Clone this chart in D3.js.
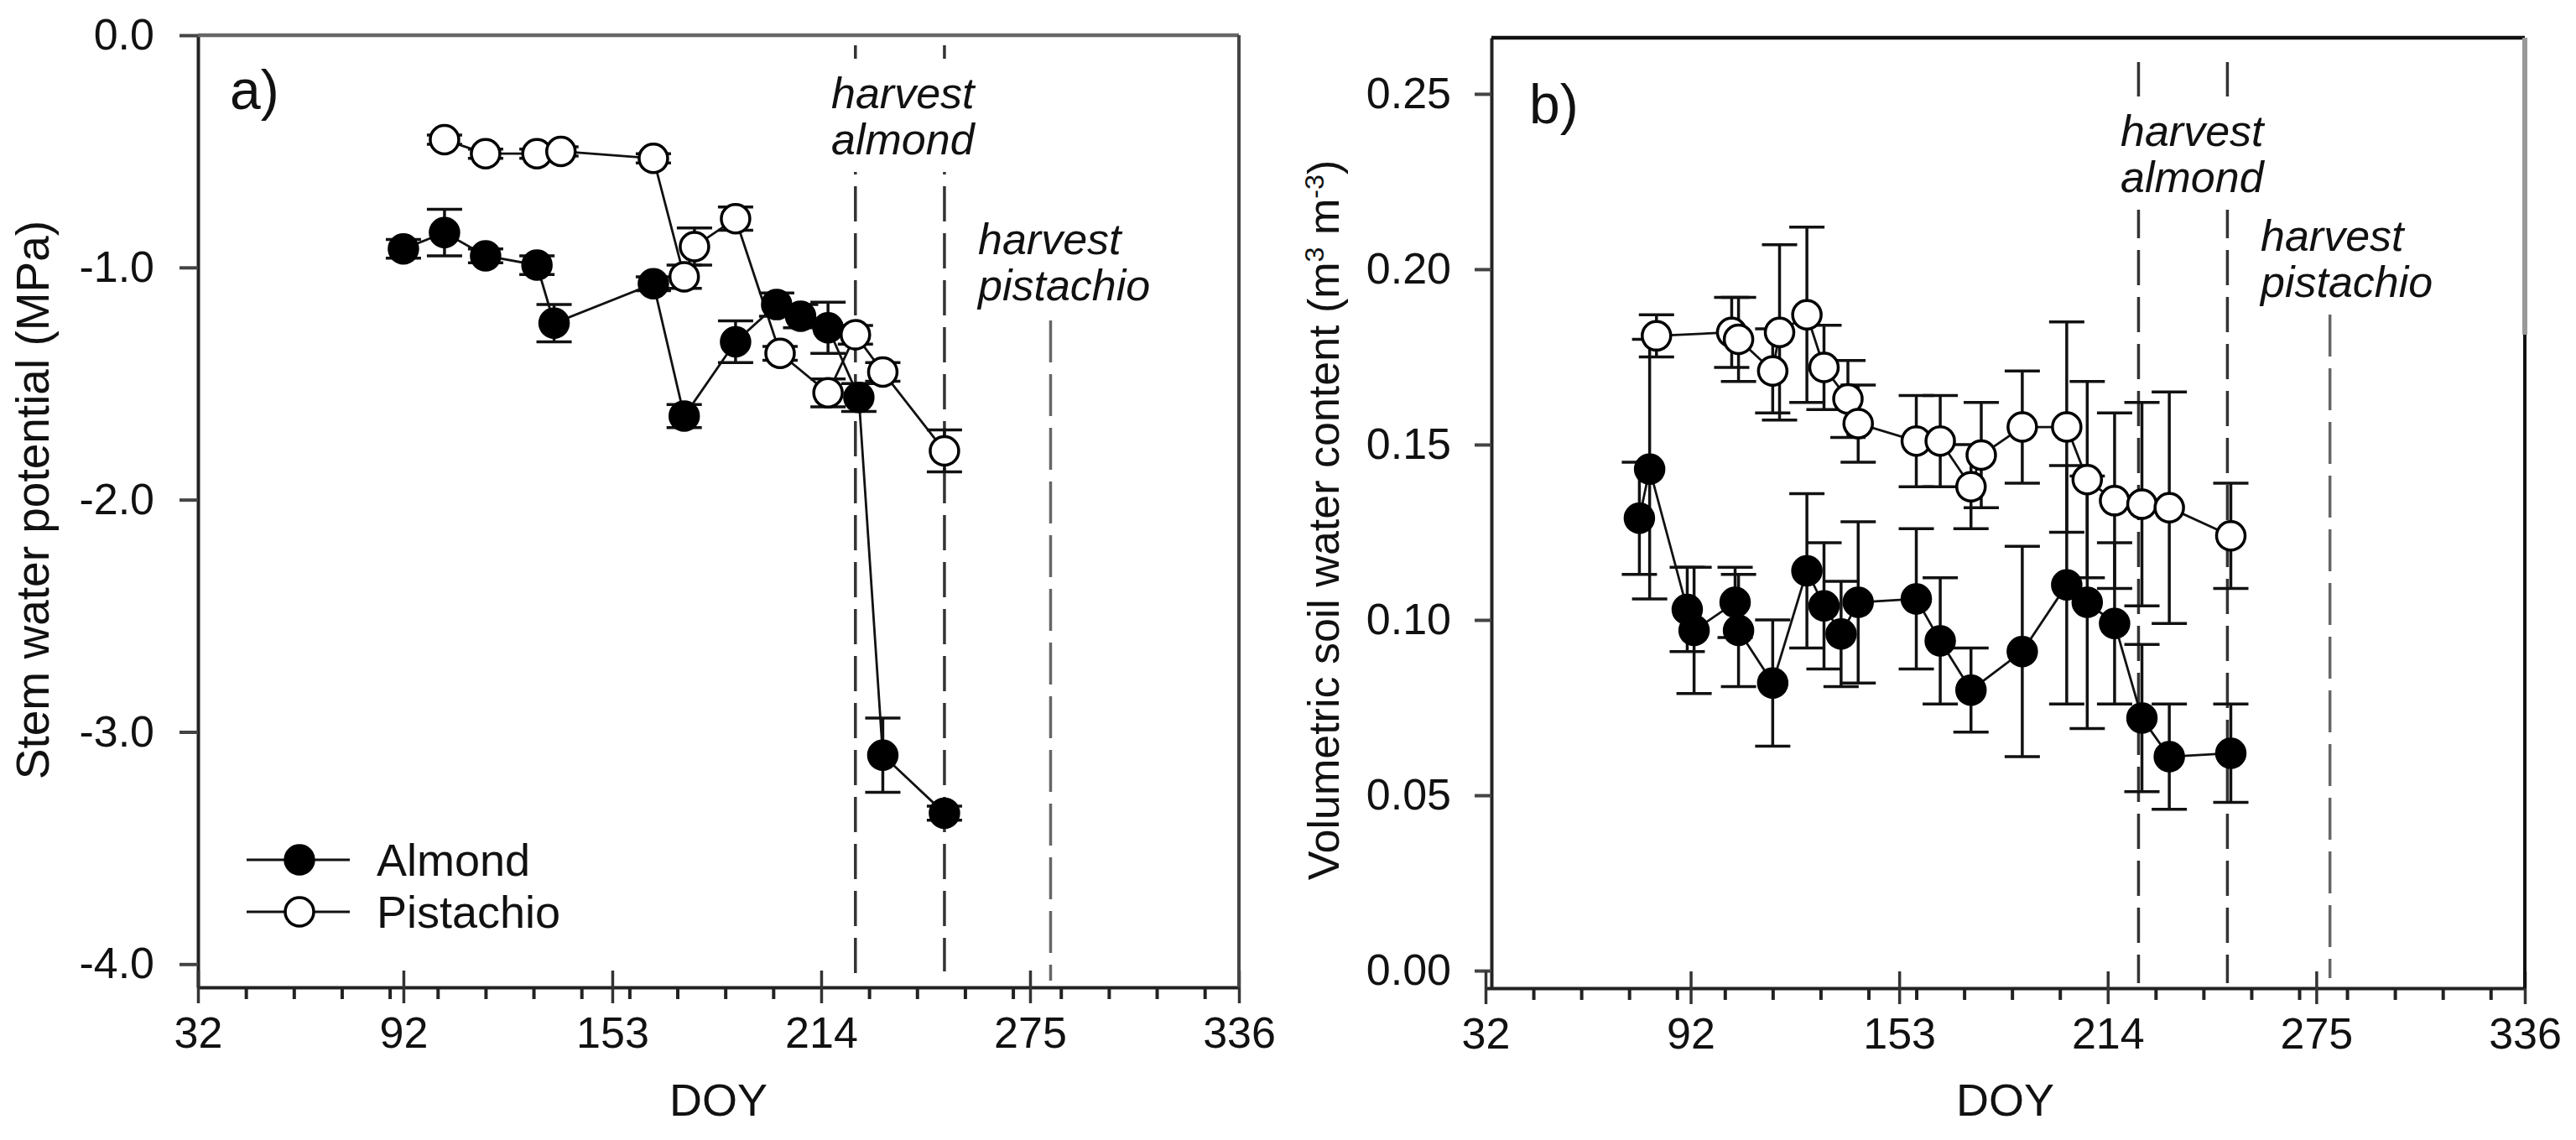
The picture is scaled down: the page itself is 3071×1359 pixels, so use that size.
<!DOCTYPE html>
<html>
<head>
<meta charset="utf-8">
<title>Stem water potential and soil water content</title>
<style>
  body { margin: 0; background: #fff; }
  text { font-family: "Liberation Sans", Arial, sans-serif; fill: #111; }
</style>
</head>
<body>
<script src="https://d3js.org/d3.v7.min.js"></script>
<svg id="chart" width="3071" height="1359"></svg>
<script>
// ---- data, panel a (stem water potential, MPa) ----
var almondDoyA = [92, 104, 116, 131, 136, 165, 174, 189, 201, 208, 216, 225, 232, 250];
var almondSwpA = [-0.92, -0.85, -0.95, -0.99, -1.24, -1.07, -1.64, -1.32, -1.16, -1.21, -1.26, -1.56, -3.10, -3.35];
var almondErrA = [0.04, 0.10, 0.03, 0.04, 0.08, 0.03, 0.05, 0.09, 0.05, 0.05, 0.11, 0.06, 0.16, 0.03];

var pistachioDoyA = [104, 116, 131, 138, 165, 174, 177, 189, 202, 216, 224, 232, 250];
var pistachioSwpA = [-0.45, -0.51, -0.51, -0.50, -0.53, -1.04, -0.91, -0.79, -1.37, -1.54, -1.29, -1.45, -1.79];
var pistachioErrA = [0.02, 0.02, 0.02, 0.02, 0.02, 0.05, 0.08, 0.05, 0.03, 0.06, 0.04, 0.04, 0.09];

// ---- data, panel b (volumetric soil water content) ----
var almondDoyB = [77, 80, 91, 93, 105, 106, 116, 126, 131, 136, 141, 158, 165, 174, 189, 202, 208, 216, 224, 232, 250];
var almondVwcB = [0.129, 0.143, 0.103, 0.097, 0.105, 0.097, 0.082, 0.114, 0.104, 0.096, 0.105, 0.106, 0.094, 0.080, 0.091, 0.110, 0.105, 0.099, 0.072, 0.061, 0.062];
var almondErrB = [0.016, 0.037, 0.012, 0.018, 0.010, 0.016, 0.018, 0.022, 0.018, 0.015, 0.023, 0.020, 0.018, 0.012, 0.030, 0.034, 0.036, 0.023, 0.021, 0.015, 0.014];

var pistachioDoyB = [82, 104, 106, 116, 118, 126, 131, 138, 141, 158, 165, 174, 177, 189, 202, 208, 216, 224, 232, 250];
var pistachioVwcB = [0.181, 0.182, 0.180, 0.171, 0.182, 0.187, 0.172, 0.163, 0.156, 0.151, 0.151, 0.138, 0.147, 0.155, 0.155, 0.140, 0.134, 0.133, 0.132, 0.124];
var pistachioErrB = [0.006, 0.010, 0.012, 0.012, 0.025, 0.025, 0.012, 0.011, 0.011, 0.013, 0.013, 0.012, 0.015, 0.016, 0.030, 0.028, 0.025, 0.029, 0.033, 0.015];

// harvest dates (DOY) as drawn in each panel
var harvestA = [224, 250, 281];
var harvestB = [223, 249, 279];

// axis ticks
var xMajorTicks = [32, 92, 153, 214, 275, 336];
var xMinorTicks = [46, 60, 74, 88, 102, 116, 130, 144, 158, 172, 186, 200, 228, 242, 256, 270, 284, 298, 312, 326];
var yTicksA = [0, -1, -2, -3, -4];
var yTicksB = [0, 0.05, 0.10, 0.15, 0.20, 0.25];

var svg = d3.select("#chart");

function zip(doy, val, err) {
    return doy.map(function(d, i) { return {doy: d, v: val[i], e: err[i]}; });
}

function drawPanel(p) {
    var x = d3.scaleLinear().domain([32, 336]).range(p.xRange);
    var y = d3.scaleLinear().domain(p.yDomain).range(p.yRange);
    var g = svg.append("g");
    var top = p.yRange[1], bottom = p.yRange[0];

    // harvest lines
    g.selectAll(".harvest")
        .data(p.harvest)
        .enter().append("line")
        .attr("x1", function(d) { return x(d); })
        .attr("x2", function(d) { return x(d); })
        .attr("y1", function(d, i) { return p.harvestTop[i]; })
        .attr("y2", function(d, i) { return p.harvestBottom[i]; })
        .attr("stroke", function(d, i) { return i == 2 ? "#666" : "#333"; })
        .attr("stroke-width", 3.5)
        .attr("stroke-dasharray", function(d, i) { return i == 2 ? "50,14" : "42,14"; });

    // harvest labels, almond one has a white box that hides the lines
    p.labels.forEach(function(l) {
        var lg = g.append("g");
        var t = lg.append("text")
            .attr("x", l.x).attr("y", l.y)
            .attr("font-size", 52)
            .attr("font-style", "italic");
        t.append("tspan").attr("x", l.x).text("harvest");
        t.append("tspan").attr("x", l.x).attr("dy", 55).text(l.crop);
        if (l.box) {
            var bb = t.node().getBBox();
            lg.insert("rect", "text")
                .attr("x", bb.x - 6).attr("y", bb.y - 12)
                .attr("width", bb.width + 12).attr("height", bb.height + 22)
                .attr("fill", "#fff");
        }
    });

    // axes
    var yAxis = d3.axisLeft(y).tickValues(p.yTicks)
        .tickFormat(function(d) { return d.toFixed(p.yDigits); })
        .tickSize(p.yTickSize).tickSizeOuter(0).tickPadding(p.yPad);
    var ya = g.append("g").attr("transform", "translate(" + p.yAxisX + ",0)").call(yAxis);
    ya.select(".domain").attr("stroke", "#222").attr("stroke-width", 4);
    ya.selectAll(".tick line").attr("stroke", "#444").attr("stroke-width", 4);
    ya.selectAll(".tick text").attr("font-size", 52).attr("fill", "#222");

    var xAxis = d3.axisBottom(x).tickValues(xMajorTicks)
        .tickSize(19).tickSizeOuter(0).tickPadding(16);
    var xa = g.append("g").attr("transform", "translate(0," + bottom + ")").call(xAxis);
    xa.select(".domain").attr("stroke", "#222").attr("stroke-width", 4);
    xa.selectAll(".tick line").attr("y1", -20).attr("stroke", "#333").attr("stroke-width", 3.5);
    xa.selectAll(".tick text").attr("font-size", 52).attr("fill", "#222");

    var xMinor = d3.axisBottom(x).tickValues(xMinorTicks).tickSize(14).tickFormat("");
    var xm = g.append("g").attr("transform", "translate(0," + bottom + ")").call(xMinor);
    xm.select(".domain").remove();
    xm.selectAll(".tick line").attr("stroke", "#222").attr("stroke-width", 4);

    // frame: top and right
    g.append("line").attr("x1", p.yAxisX).attr("x2", p.xRange[1])
        .attr("y1", top).attr("y2", top)
        .attr("stroke", p.topColor).attr("stroke-width", 4.5);
    g.append("line").attr("x1", p.xRange[1]).attr("x2", p.xRange[1])
        .attr("y1", top).attr("y2", bottom)
        .attr("stroke", p.rightColor).attr("stroke-width", 4);
    if (p.rightGrayTo) {
        g.append("line").attr("x1", p.xRange[1]).attr("x2", p.xRange[1])
            .attr("y1", top).attr("y2", p.rightGrayTo)
            .attr("stroke", "#999").attr("stroke-width", 6);
    }

    // axis titles
    g.append("text")
        .attr("text-anchor", "middle")
        .attr("x", (p.xRange[0] + p.xRange[1]) / 2)
        .attr("y", 1330)
        .attr("font-size", 54)
        .text("DOY");

    var yt = g.append("text")
        .attr("text-anchor", "middle")
        .attr("transform", "translate(" + p.yTitleX + "," + p.yTitleY + ") rotate(-90)")
        .attr("font-size", p.yTitleSize);
    p.yTitle.forEach(function(part) {
        var ts = yt.append("tspan").text(part.t);
        if (part.sup) ts.attr("font-size", p.yTitleSize * 0.62).attr("baseline-shift", "super");
    });

    g.append("text")
        .attr("x", p.panelLabel.x).attr("y", p.panelLabel.y)
        .attr("font-size", 66)
        .text(p.panelLabel.t);

    // series
    var line = d3.line().x(function(d) { return x(d.doy); }).y(function(d) { return y(d.v); });
    p.series.forEach(function(s) {
        var eb = g.append("g").attr("stroke", "#111").attr("stroke-width", 3.5);
        s.data.forEach(function(d) {
            var cx = x(d.doy);
            eb.append("line").attr("x1", cx).attr("x2", cx).attr("y1", y(d.v - d.e)).attr("y2", y(d.v + d.e));
            eb.append("line").attr("x1", cx - 21).attr("x2", cx + 21).attr("y1", y(d.v - d.e)).attr("y2", y(d.v - d.e));
            eb.append("line").attr("x1", cx - 21).attr("x2", cx + 21).attr("y1", y(d.v + d.e)).attr("y2", y(d.v + d.e));
        });
    });
    p.series.forEach(function(s) {
        g.append("path").datum(s.data)
            .attr("d", line)
            .attr("fill", "none")
            .attr("stroke", "#111")
            .attr("stroke-width", 2.8);
    });
    p.series.forEach(function(s) {
        g.selectAll(null).data(s.data).enter().append("circle")
            .attr("cx", function(d) { return x(d.doy); })
            .attr("cy", function(d) { return y(d.v); })
            .attr("r", 17)
            .attr("fill", s.filled ? "#000" : "#fff")
            .attr("stroke", "#000")
            .attr("stroke-width", 3.5);
    });
}

drawPanel({
    xRange: [236, 1477],
    yDomain: [-4.1, 0],
    yRange: [1177, 42],
    yAxisX: 236,
    yTicks: yTicksA, yDigits: 1, yTickSize: 22, yPad: 30,
    topColor: "#666", rightColor: "#444",
    harvest: harvestA,
    harvestTop: [54, 54, 382],
    harvestBottom: [1164, 1158, 1169],
    labels: [
        {x: 991, y: 129, crop: "almond", box: true},
        {x: 1166, y: 303, crop: "pistachio", box: false}
    ],
    yTitle: [{t: "Stem water potential (MPa)"}],
    yTitleX: 58, yTitleY: 596, yTitleSize: 55,
    panelLabel: {x: 274, y: 130, t: "a)"},
    series: [
        {data: zip(almondDoyA, almondSwpA, almondErrA), filled: true},
        {data: zip(pistachioDoyA, pistachioSwpA, pistachioErrA), filled: false}
    ]
});

drawPanel({
    xRange: [1771, 3010],
    yDomain: [-0.005, 0.266],
    yRange: [1178, 45],
    yAxisX: 1778,
    yTicks: yTicksB, yDigits: 2, yTickSize: 20, yPad: 28,
    topColor: "#111", rightColor: "#111", rightGrayTo: 399,
    harvest: harvestB,
    harvestTop: [74, 74, 375],
    harvestBottom: [1172, 1172, 1166],
    labels: [
        {x: 2528, y: 174, crop: "almond", box: true},
        {x: 2695, y: 299, crop: "pistachio", box: false}
    ],
    yTitle: [{t: "Volumetric soil water content (m"}, {t: "3", sup: true}, {t: " m"}, {t: "-3", sup: true}, {t: ")"}],
    yTitleX: 1596, yTitleY: 620, yTitleSize: 52,
    panelLabel: {x: 1823, y: 147, t: "b)"},
    series: [
        {data: zip(almondDoyB, almondVwcB, almondErrB), filled: true},
        {data: zip(pistachioDoyB, pistachioVwcB, pistachioErrB), filled: false}
    ]
});

// legend (panel a)
var legendItems = ["Almond", "Pistachio"];
var legend = svg.append("g");
legendItems.forEach(function(name, i) {
    var ly = 1025 + i * 62;
    legend.append("line").attr("x1", 294).attr("x2", 417).attr("y1", ly).attr("y2", ly)
        .attr("stroke", "#111").attr("stroke-width", 3);
    legend.append("circle").attr("cx", 357).attr("cy", ly).attr("r", 17)
        .attr("fill", i == 0 ? "#000" : "#fff").attr("stroke", "#000").attr("stroke-width", 3.5);
    legend.append("text").attr("x", 449).attr("y", ly).attr("dy", "0.35em")
        .attr("font-size", 54).text(name);
});
</script>
</body>
</html>
